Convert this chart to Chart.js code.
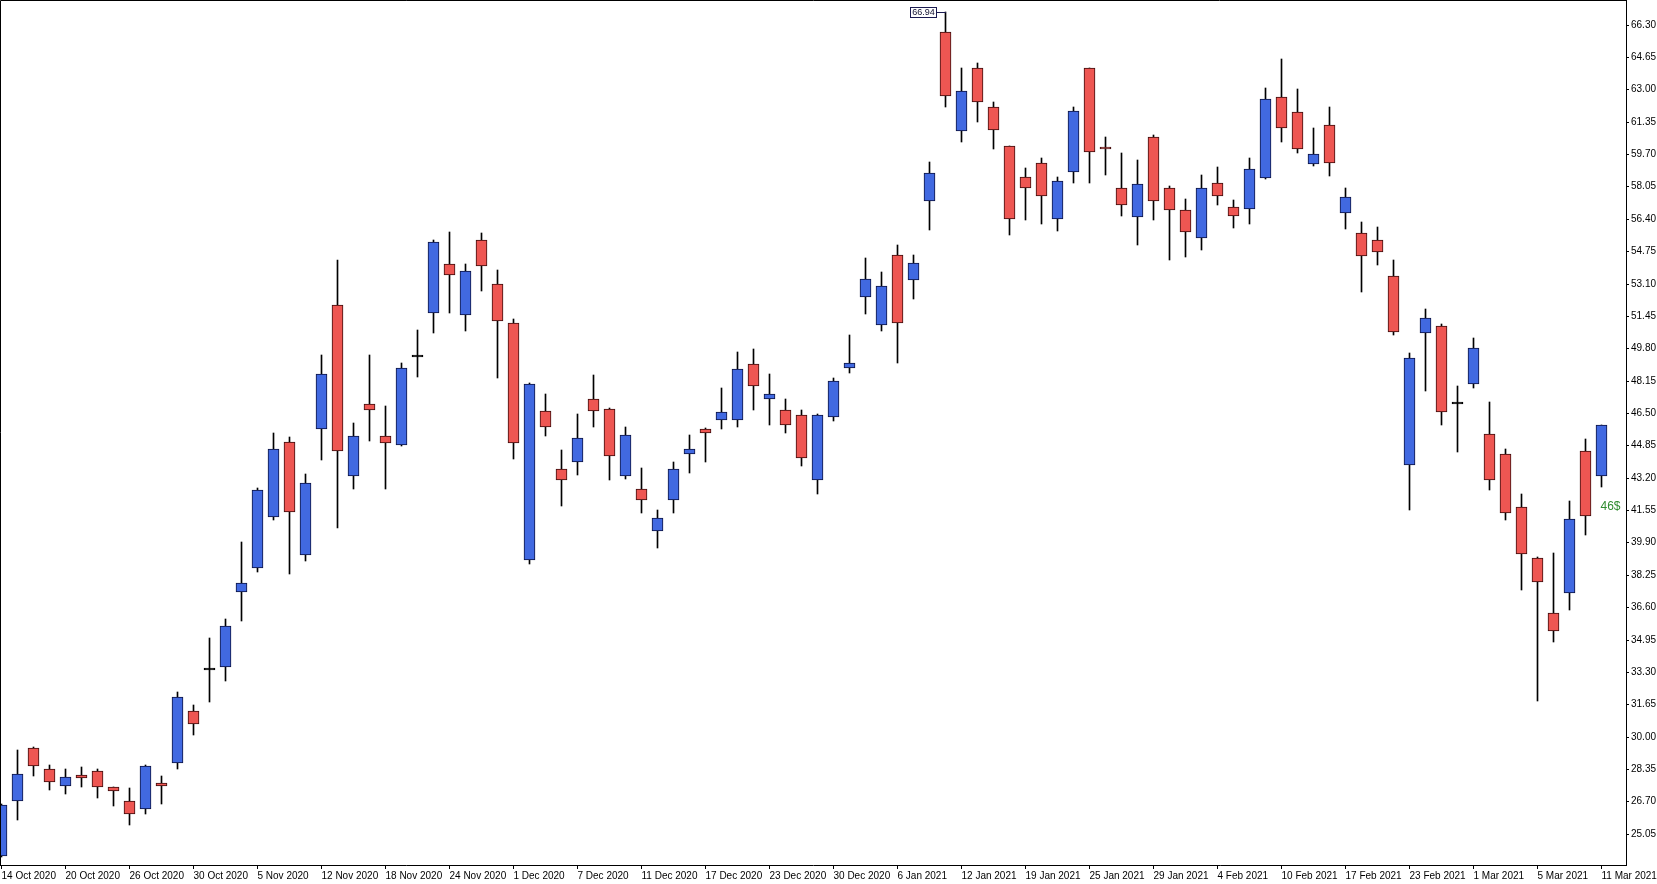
<!DOCTYPE html>
<html>
<head>
<meta charset="utf-8">
<title>Daily candles</title>
<script src="https://cdn.jsdelivr.net/npm/chart.js@4.4.1/dist/chart.umd.min.js"></script>
<style>
  html, body { margin: 0; padding: 0; background: #fff; }
  #wrap { width: 1657px; height: 884px; position: relative; }
</style>
</head>
<body>
<div id="wrap"><canvas id="chart"></canvas></div>
<script>
// ---- data ----
const dates = [
  '14 Oct 2020', '15 Oct 2020', '16 Oct 2020', '19 Oct 2020', '20 Oct 2020', '21 Oct 2020', '22 Oct 2020', '23 Oct 2020', '26 Oct 2020', '27 Oct 2020',
  '28 Oct 2020', '29 Oct 2020', '30 Oct 2020', '2 Nov 2020', '3 Nov 2020', '4 Nov 2020', '5 Nov 2020', '6 Nov 2020', '9 Nov 2020', '10 Nov 2020',
  '12 Nov 2020', '13 Nov 2020', '16 Nov 2020', '17 Nov 2020', '18 Nov 2020', '19 Nov 2020', '20 Nov 2020', '23 Nov 2020', '24 Nov 2020', '25 Nov 2020',
  '27 Nov 2020', '30 Nov 2020', '1 Dec 2020', '2 Dec 2020', '3 Dec 2020', '4 Dec 2020', '7 Dec 2020', '8 Dec 2020', '9 Dec 2020', '10 Dec 2020',
  '11 Dec 2020', '14 Dec 2020', '15 Dec 2020', '16 Dec 2020', '17 Dec 2020', '18 Dec 2020', '21 Dec 2020', '22 Dec 2020', '23 Dec 2020', '24 Dec 2020',
  '28 Dec 2020', '29 Dec 2020', '30 Dec 2020', '31 Dec 2020', '4 Jan 2021', '5 Jan 2021', '6 Jan 2021', '7 Jan 2021', '8 Jan 2021', '11 Jan 2021',
  '12 Jan 2021', '13 Jan 2021', '14 Jan 2021', '15 Jan 2021', '19 Jan 2021', '20 Jan 2021', '21 Jan 2021', '22 Jan 2021', '25 Jan 2021', '26 Jan 2021',
  '27 Jan 2021', '28 Jan 2021', '29 Jan 2021', '1 Feb 2021', '2 Feb 2021', '3 Feb 2021', '4 Feb 2021', '5 Feb 2021', '8 Feb 2021', '9 Feb 2021',
  '10 Feb 2021', '11 Feb 2021', '12 Feb 2021', '16 Feb 2021', '17 Feb 2021', '18 Feb 2021', '19 Feb 2021', '22 Feb 2021', '23 Feb 2021', '24 Feb 2021',
  '25 Feb 2021', '26 Feb 2021', '1 Mar 2021', '2 Mar 2021', '3 Mar 2021', '4 Mar 2021', '5 Mar 2021', '8 Mar 2021', '9 Mar 2021', '10 Mar 2021',
  '11 Mar 2021'
];

const opens = [
  23.90, 26.72, 29.40, 28.35, 27.49, 28.04, 28.26, 27.43, 26.72, 26.31,
  27.63, 28.63, 31.29, 33.41, 33.55, 37.37, 38.61, 41.21, 45.00, 39.24,
  45.66, 51.99, 43.27, 46.94, 45.31, 44.85, 49.35, 51.58, 54.08, 51.49,
  55.30, 53.06, 51.07, 39.03, 46.58, 43.67, 43.98, 47.19, 46.73, 43.27,
  42.65, 40.46, 42.09, 44.39, 45.66, 46.12, 46.12, 48.98, 47.24, 46.63,
  46.38, 43.06, 46.30, 48.81, 52.40, 50.97, 54.54, 53.26, 57.33, 65.91,
  60.86, 64.08, 62.09, 60.10, 58.52, 59.23, 56.38, 58.77, 64.08, 60.05,
  57.96, 56.48, 60.56, 57.96, 56.83, 55.41, 58.21, 56.99, 56.89, 58.47,
  62.60, 61.83, 59.18, 61.17, 56.68, 55.66, 55.34, 53.49, 43.83, 50.59,
  50.94, 46.97, 47.97, 45.42, 44.39, 41.69, 39.13, 36.29, 37.32, 44.54,
  43.31
];
const highs = [
  26.55, 29.32, 29.48, 28.57, 28.37, 28.47, 28.34, 27.45, 27.39, 28.55,
  28.00, 32.29, 31.62, 35.01, 35.99, 39.91, 42.67, 45.46, 45.27, 43.37,
  49.44, 54.28, 45.99, 49.44, 46.85, 49.03, 50.73, 55.33, 55.73, 54.08,
  55.67, 53.79, 51.27, 48.05, 47.46, 44.59, 46.44, 48.43, 46.78, 45.78,
  43.72, 41.58, 43.98, 45.37, 45.75, 47.75, 49.61, 49.74, 48.48, 47.24,
  46.63, 46.45, 48.30, 50.48, 54.42, 53.69, 55.07, 54.54, 59.30, 66.94,
  64.08, 64.33, 62.34, 60.12, 58.98, 59.49, 58.52, 62.09, 64.10, 60.56,
  59.74, 59.38, 60.66, 58.06, 57.41, 58.62, 59.03, 57.34, 59.49, 63.05,
  64.53, 63.00, 61.02, 62.09, 57.96, 56.22, 55.96, 54.28, 49.58, 51.78,
  51.03, 47.88, 50.33, 47.06, 44.67, 42.36, 39.15, 39.38, 42.00, 45.18,
  45.90
];
const lows = [
  23.85, 25.77, 27.98, 27.27, 27.05, 27.41, 26.86, 26.48, 25.48, 26.05,
  26.54, 28.33, 30.09, 31.74, 32.86, 35.91, 38.37, 41.05, 38.30, 38.93,
  44.12, 40.63, 42.64, 45.08, 42.64, 44.80, 48.33, 50.59, 51.61, 50.69,
  52.70, 48.30, 44.17, 38.81, 45.34, 41.77, 43.35, 45.78, 43.10, 43.15,
  41.41, 39.63, 41.41, 43.45, 44.01, 45.66, 45.78, 46.67, 45.90, 45.49,
  43.81, 42.38, 46.10, 48.56, 51.53, 50.68, 49.03, 52.33, 55.83, 62.12,
  60.34, 61.36, 59.98, 55.59, 56.36, 56.15, 55.80, 58.25, 58.25, 58.62,
  56.56, 55.08, 56.36, 54.32, 54.47, 54.83, 57.09, 55.95, 56.12, 58.45,
  60.30, 59.74, 59.08, 58.57, 55.87, 52.65, 54.04, 50.46, 41.56, 47.63,
  45.91, 44.50, 47.76, 42.55, 41.07, 37.46, 31.80, 34.81, 36.44, 40.28,
  42.73
];
const closes = [
  26.50, 28.10, 28.49, 27.68, 27.94, 27.90, 27.43, 27.23, 26.05, 28.51,
  27.50, 32.02, 30.62, 33.41, 35.62, 37.82, 42.57, 44.68, 41.43, 42.91,
  48.47, 44.54, 45.31, 46.63, 44.98, 48.77, 49.35, 55.20, 53.52, 53.72,
  54.02, 51.17, 44.95, 47.99, 45.78, 43.06, 45.25, 46.58, 44.29, 45.36,
  42.04, 41.17, 43.62, 44.64, 45.46, 46.53, 48.72, 47.86, 47.45, 45.87,
  44.23, 46.38, 48.13, 49.03, 53.32, 52.96, 51.07, 54.13, 58.72, 62.65,
  62.90, 62.34, 60.91, 56.38, 57.96, 57.55, 58.31, 61.88, 59.79, 59.94,
  57.09, 58.16, 57.29, 56.83, 55.71, 57.96, 57.55, 56.53, 58.92, 62.49,
  61.02, 59.98, 59.69, 59.23, 57.50, 54.49, 54.70, 50.62, 49.31, 51.34,
  46.53, 46.97, 49.80, 43.06, 41.38, 39.33, 37.89, 35.38, 41.12, 41.23,
  45.87
];

const priceTicks = [
  25.05, 26.70, 28.35, 30.00, 31.65, 33.30, 34.95, 36.60, 38.25, 39.90,
  41.55, 43.20, 44.85, 46.50, 48.15, 49.80, 51.45, 53.10, 54.75, 56.40,
  58.05, 59.70, 61.35, 63.00, 64.65, 66.30
];

// text note on the last bar
const noteText = '46$';
const noteIndex = 100;
const notePrice = 41.7;

// ---- look ----
const BULL = '#4169e1', BULL_EDGE = '#0c1240';
const BEAR = '#ee5652', BEAR_EDGE = '#3c0c0c';
const FONT = 'Tahoma, "Liberation Sans", sans-serif';
const BAR_STEP = 16;      // px between bars
const PLOT_W = 1626;      // plot width in px
const LABEL_EVERY = 4;

Chart.defaults.font.family = FONT;
Chart.defaults.font.size = 10;
Chart.defaults.color = '#000';

const bodyFill = opens.map((o, i) => closes[i] > o ? BULL : (closes[i] < o ? BEAR : '#000'));
const bodyEdge = opens.map((o, i) => closes[i] > o ? BULL_EDGE : (closes[i] < o ? BEAR_EDGE : '#000'));

// frame, max-price tag and the note
const overlay = {
  id: 'overlay',
  afterDraw(chart) {
    const { ctx, chartArea: a, scales: { x, y } } = chart;
    ctx.save();
    ctx.strokeStyle = '#000';
    ctx.lineWidth = 1;
    ctx.beginPath();
    ctx.moveTo(a.left + 0.5, a.bottom);
    ctx.lineTo(a.left + 0.5, a.top + 0.5);
    ctx.lineTo(a.right, a.top + 0.5);
    ctx.stroke();

    // highest high tag
    const hi = Math.max(...highs);
    const hiIdx = highs.indexOf(hi);
    const px = Math.floor(x.getPixelForValue(hiIdx));
    const py = Math.round(y.getPixelForValue(hi)) + 0.5;
    const txt = hi.toFixed(2);
    ctx.font = '9px ' + FONT;
    const w = Math.ceil(ctx.measureText(txt).width) + 3;
    const bx2 = px - 9;
    ctx.strokeStyle = '#1a1a50';
    ctx.beginPath();
    ctx.moveTo(bx2, py);
    ctx.lineTo(px + 1, py);
    ctx.stroke();
    ctx.fillStyle = '#fff';
    ctx.fillRect(bx2 - w + 0.5, py - 5, w, 10);
    ctx.strokeRect(bx2 - w + 0.5, py - 5, w, 10);
    ctx.fillStyle = '#101030';
    ctx.textAlign = 'center';
    ctx.textBaseline = 'middle';
    ctx.fillText(txt, bx2 - w / 2 + 0.5, py + 0.5);

    // note
    ctx.font = '12px ' + FONT;
    ctx.fillStyle = '#2e8b2e';
    ctx.textAlign = 'left';
    ctx.fillText(noteText, x.getPixelForValue(noteIndex) - 1, y.getPixelForValue(notePrice));
    ctx.restore();
  }
};

new Chart(document.getElementById('chart'), {
  type: 'bar',
  data: {
    datasets: [
      {
        label: 'range',
        data: dates.map((d, i) => ({ x: i, y: [lows[i], highs[i]] })),
        backgroundColor: '#000',
        barThickness: 1,
        grouped: false,
        order: 2
      },
      {
        label: 'body',
        data: dates.map((d, i) => ({ x: i, y: [opens[i], closes[i]] })),
        backgroundColor: bodyFill,
        borderColor: bodyEdge,
        borderWidth: 1,
        borderSkipped: false,
        barThickness: 11,
        minBarLength: 2,
        grouped: false,
        order: 1
      }
    ]
  },
  options: {
    responsive: true,
    maintainAspectRatio: false,
    animation: false,
    layout: { padding: 0 },
    plugins: { legend: { display: false }, tooltip: { enabled: false } },
    scales: {
      x: {
        type: 'linear',
        offset: false,
        min: -1.5 / BAR_STEP,
        max: -1.5 / BAR_STEP + PLOT_W / BAR_STEP,
        afterBuildTicks: s => {
          s.ticks = dates.map((d, i) => i).filter(i => i % LABEL_EVERY === 0).map(v => ({ value: v }));
        },
        afterFit: s => { s.height = 19; s.paddingLeft = 0; s.paddingRight = 0; },
        ticks: {
          autoSkip: false,
          maxRotation: 0,
          align: 'start',
          padding: 1,
          callback: v => dates[v]
        },
        grid: { drawOnChartArea: false, drawTicks: true, tickLength: 4, color: '#000', offset: false },
        border: { display: true, color: '#000' }
      },
      y: {
        type: 'linear',
        position: 'right',
        min: 23.454,
        max: 67.559,
        alignToPixels: true,
        afterBuildTicks: s => { s.ticks = priceTicks.map(v => ({ value: v })); },
        afterFit: s => { s.width = 31; s.paddingTop = 0; s.paddingBottom = 0; },
        ticks: {
          autoSkip: false,
          padding: 2,
          callback: v => Number(v).toFixed(2)
        },
        grid: { drawOnChartArea: false, drawTicks: true, tickLength: 3, color: '#000' },
        border: { display: true, color: '#000' }
      }
    }
  },
  plugins: [overlay]
});
</script>
</body>
</html>
